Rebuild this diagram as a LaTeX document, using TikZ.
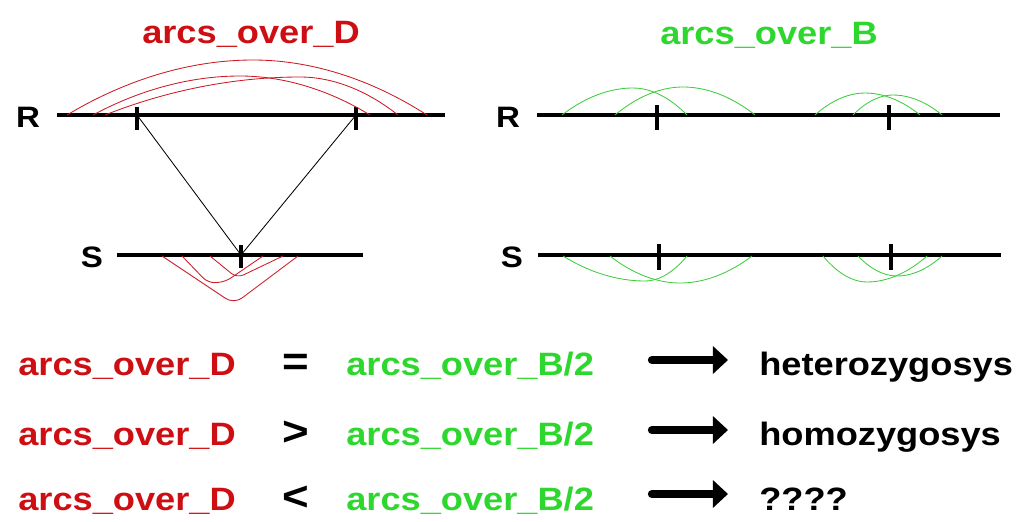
\documentclass[tikz,border=0pt]{standalone}
\usepackage{fontspec}
\usepackage{tikz}
\usetikzlibrary{arrows.meta,positioning,calc}
\setmainfont{Liberation Sans}
\newfontfamily\wideface[FakeStretch=1.12]{Liberation Sans}
\definecolor{arcred}{RGB}{205,25,35}
\definecolor{txtred}{RGB}{205,15,20}
\definecolor{arcgreen}{RGB}{60,205,60}
\definecolor{txtgreen}{RGB}{45,215,45}

\tikzset{
  axis/.style={line width=2.4pt},
  tickmark/.style={line width=2.4pt},
  link/.style={line width=0.6pt},
  redarc/.style={arcred, line width=0.6pt},
  greenarc/.style={arcgreen, line width=0.6pt},
  bigtext/.style={inner sep=0pt, anchor=base, font=\wideface\bfseries\fontsize{23}{27}\selectfont},
  relsign/.style={inner sep=0pt, anchor=base, font=\wideface\bfseries\fontsize{29}{33}\selectfont},
  seqlabel/.style={inner sep=0pt, anchor=base, font=\wideface\bfseries\fontsize{21}{25}\selectfont},
  fatarrow/.style={line width=5.9pt, line cap=round, -{Triangle[length=0.38cm, width=0.68cm]}}
}

\begin{document}
\begin{tikzpicture}[x=0.025cm, y=-0.025cm]
  \useasboundingbox (0,0) rectangle (1019,521);

  % Titles
  \node[bigtext, text=txtred] (titleD) at (251,43) {arcs\_over\_D};
  \node[bigtext, text=txtgreen] (titleB) at (769,44) {arcs\_over\_B};

  % Sequence labels
  \node[seqlabel] (RD) at (28,127) {R};
  \node[seqlabel] (SD) at (92,267) {S};
  \node[seqlabel] (RB) at (508,127) {R};
  \node[seqlabel] (SB) at (512,267) {S};

  % Left panel: axes and ticks
  \draw[axis] (57,115) -- (445,115);
  \draw[axis] (117,255) -- (363,255);
  \coordinate (dR1) at (137,115);
  \coordinate (dR2) at (356,115);
  \coordinate (dS) at (241,255);
  \foreach \p in {dR1,dR2}
    \draw[tickmark] ($(\p)+(0,-8)$) -- ($(\p)+(0,15)$);
  \draw[tickmark] ($(dS)+(0,-10)$) -- ($(dS)+(0,13)$);
  \draw[link] (dR1) -- (dS) -- (dR2);

  % Left panel: arcs over D
  \draw[redarc] (67,115) parabola bend (253,60) (427,115);
  \draw[redarc] (93,115) parabola bend (240,76) (370,115);
  \draw[redarc] (105,115) parabola bend (300,77) (398,115);
  \draw[redarc, rounded corners=7pt] (162,256) -- (234,304) -- (298,256);
  \draw[redarc, rounded corners=5pt] (182,256) -- (208,283) -- (225,282) -- (263,256);
  \draw[redarc, rounded corners=5pt] (210,256) -- (237,278) -- (283,256);

  % Right panel: axes and ticks
  \draw[axis] (537,115) -- (1000,115);
  \draw[axis] (538,255) -- (1001,255);
  \foreach \x in {657,889}
    \draw[tickmark] (\x,105) -- (\x,130);
  \foreach \x in {659,891}
    \draw[tickmark] (\x,244) -- (\x,270);

  % Right panel: arcs over B
  \draw[greenarc] (562,115) parabola bend (633,88) (687,115);
  \draw[greenarc] (615,115) parabola bend (683,87) (755,115);
  \draw[greenarc] (815,115) parabola bend (865,93) (920,115);
  \draw[greenarc] (853,115) parabola bend (893,95) (942,115);
  \draw[greenarc] (563,256) parabola bend (645,281) (687,256);
  \draw[greenarc] (610,256) parabola bend (680,283) (752,256);
  \draw[greenarc] (823,256) parabola bend (867,282) (927,256);
  \draw[greenarc] (858,256) parabola bend (897,276) (942,256);

  % Relations
  \foreach \i/\yb/\ya/\rel/\res in {1/375/360/=/heterozygosys,
                                    2/445/430/>/homozygosys,
                                    3/510/494/</????} {
    \node[bigtext, anchor=base west, text=txtred] (D\i) at (18,\yb) {arcs\_over\_D};
    \node[relsign] (rel\i) at (296,\yb) {\rel};
    \node[bigtext, anchor=base west, text=txtgreen] (B\i) at (346,\yb) {arcs\_over\_B/2};
    \node[bigtext, anchor=base west] (res\i) at (759,\yb) {\res};
    \coordinate (a\i) at (652,\ya);
    \coordinate (b\i) at (728,\ya);
    \draw[fatarrow] (a\i) -- (b\i);
  }
\end{tikzpicture}
\end{document}
